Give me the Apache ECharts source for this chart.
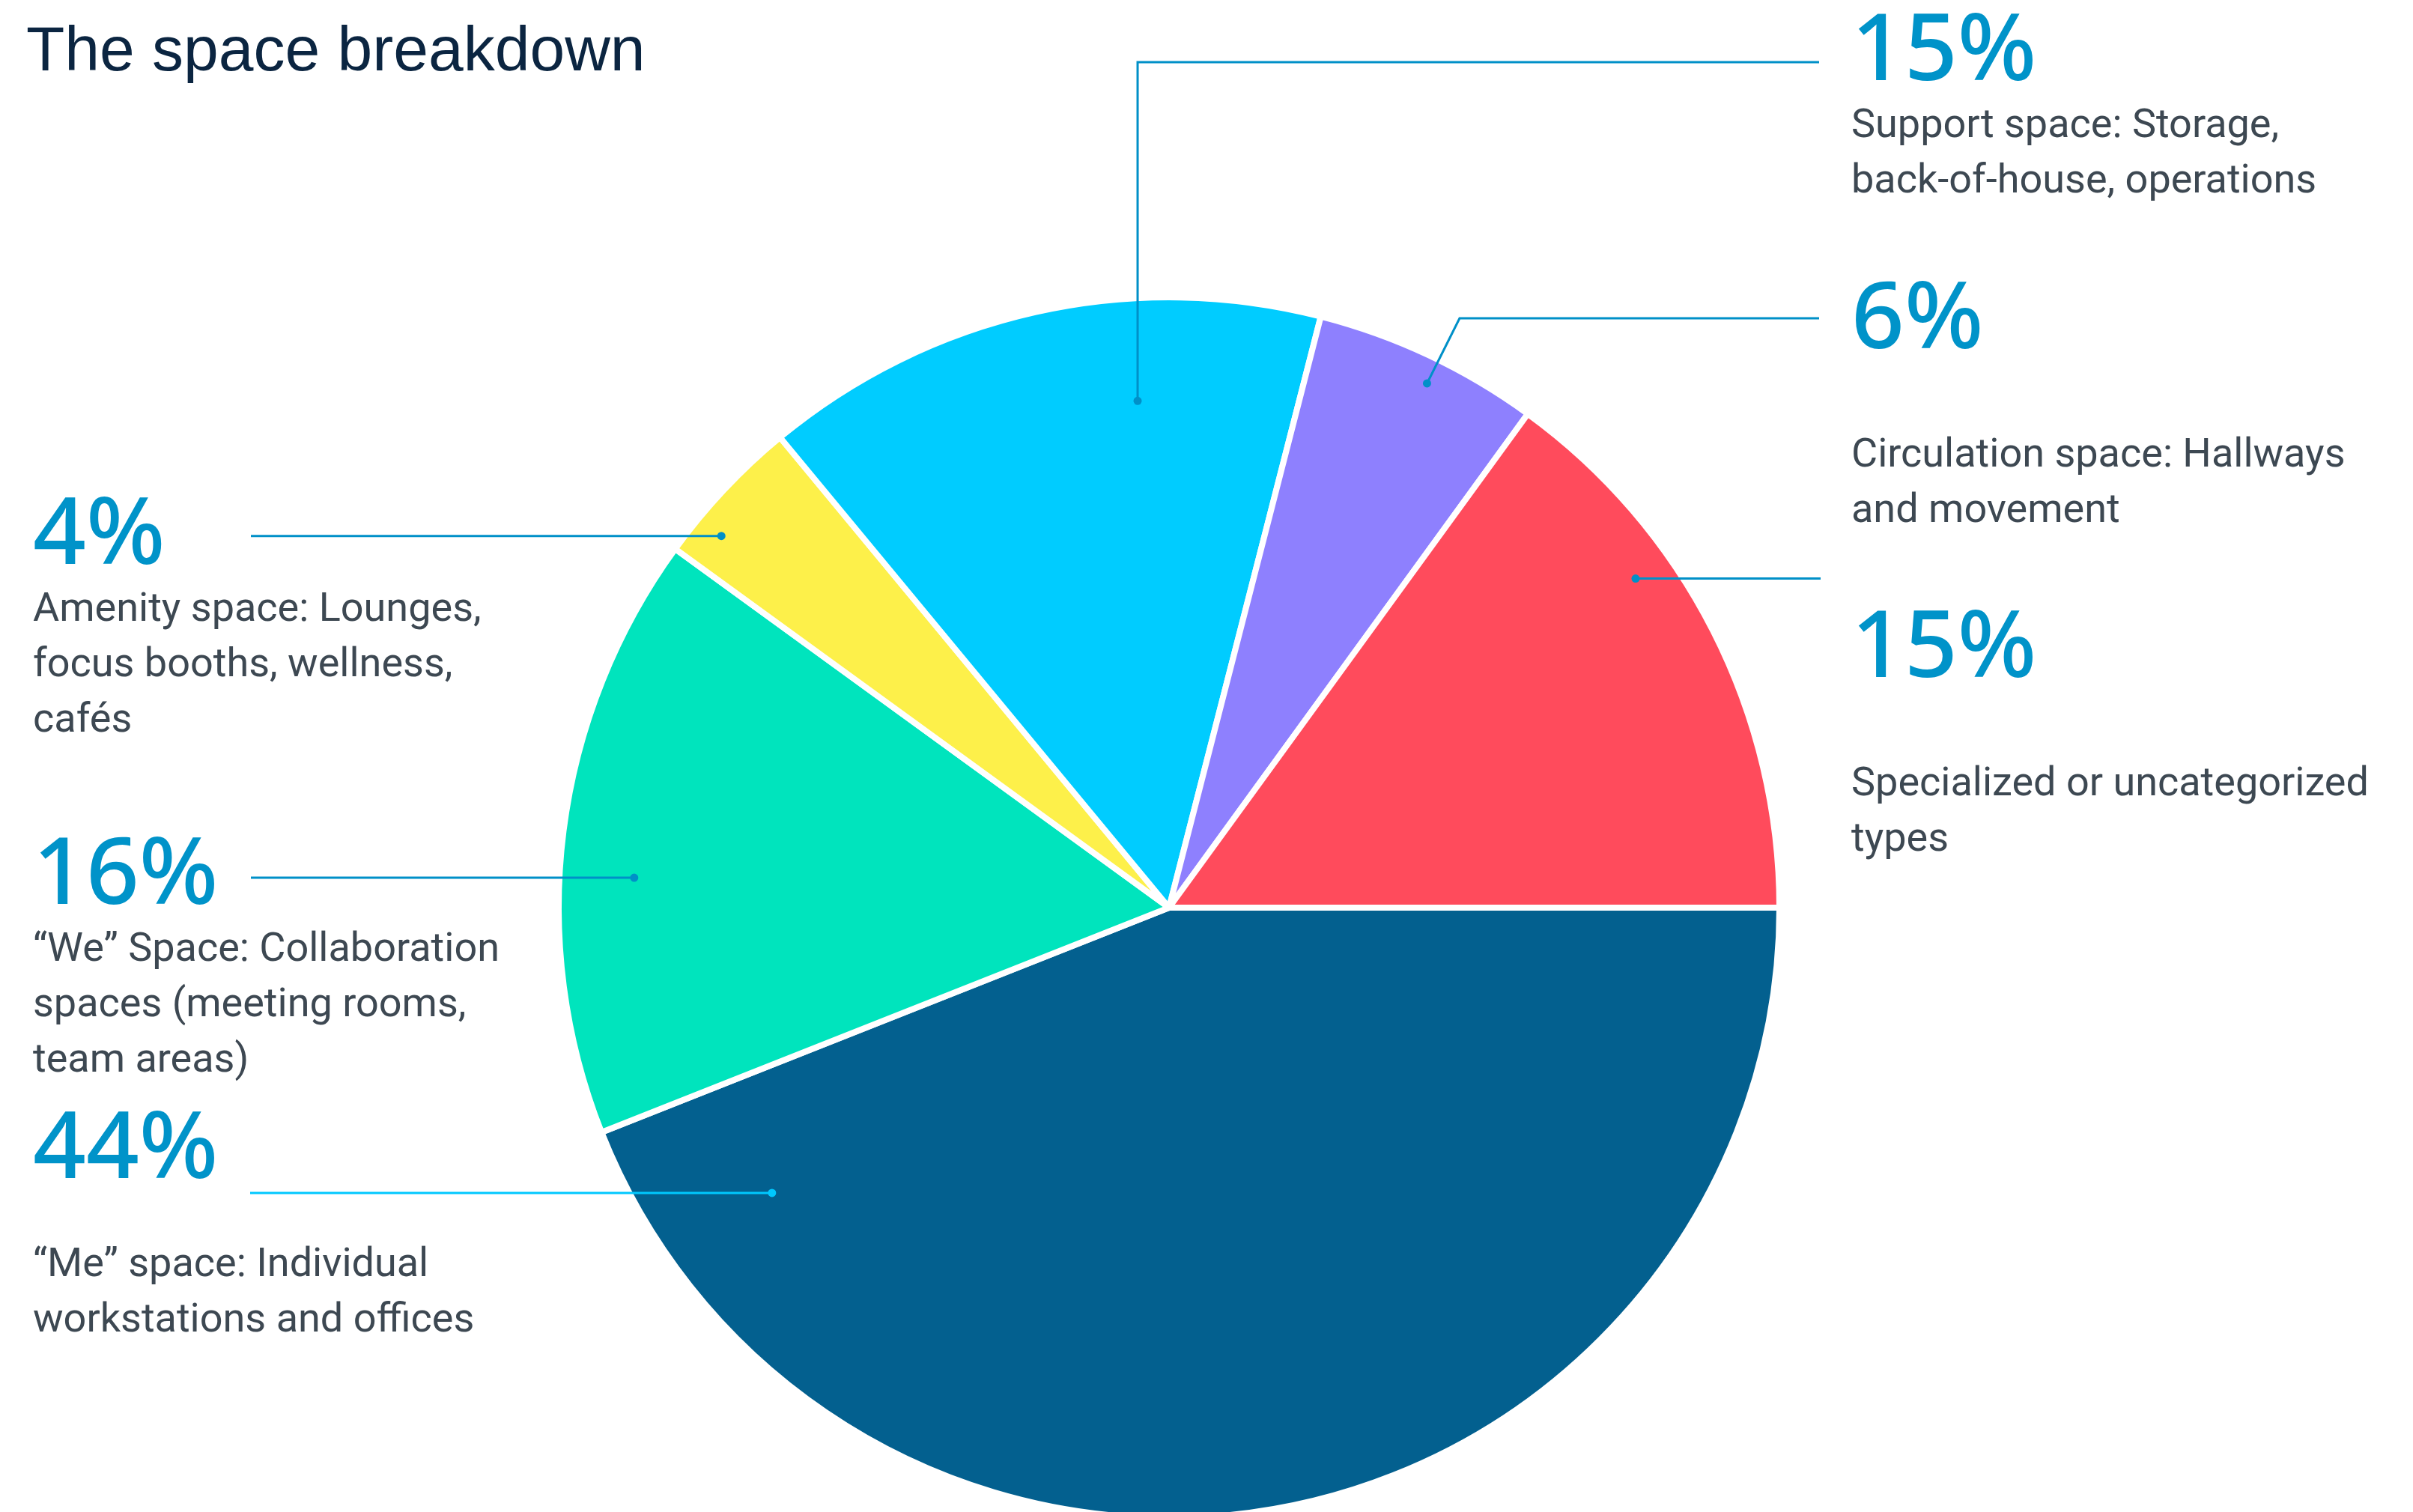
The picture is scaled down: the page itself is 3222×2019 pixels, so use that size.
<!DOCTYPE html>
<html>
<head>
<meta charset="utf-8">
<script src="https://cdn.jsdelivr.net/npm/echarts@6/dist/echarts.min.js"></script>
<style>
  html, body { margin: 0; padding: 0; background: #ffffff; }
  #chart { width: 3222px; height: 2019px; }
</style>
</head>
<body>
<div id="chart"></div>
<script>
// ---- data ----
const titleText = 'The space breakdown';
const categories = ['“Me” space', '“We” Space', 'Amenity space', 'Support space', 'Circulation space', 'Specialized or uncategorized'];
const values = [44, 16, 4, 15, 6, 15];
const descriptions = [
  ['“Me” space: Individual', 'workstations and offices'],
  ['“We” Space: Collaboration', 'spaces (meeting rooms,', 'team areas)'],
  ['Amenity space: Lounges,', 'focus booths, wellness,', 'cafés'],
  ['Support space: Storage,', 'back-of-house, operations'],
  ['Circulation space: Hallways', 'and movement'],
  ['Specialized or uncategorized', 'types']
];
const sliceColors = ['#03608F', '#00E4BD', '#FDF04A', '#00CCFF', '#8E80FE', '#FF4B5C'];

// ---- layout / style ----
const CENTER = [1561, 1212];
const VIS_R = 811;
const BORDER = 8;
// leader-line anchor dots: [angle deg clockwise from east, radius fraction]
const anchorPolar = [[144.3, 0.805], [183.2, 0.882], [219.7, 0.958], [266.45, 0.836], [296.2, 0.962], [324.8, 0.94]];
const labelBox = [
  { x: 44, top: 1477, endX: 334, elbowY: null, gap: 'gapB' },
  { x: 44, top: 1111, endX: 335, elbowY: null, gap: null },
  { x: 44, top: 657, endX: 335, elbowY: null, gap: null },
  { x: 2472, top: 11, endX: 2429, elbowY: 83, elbowVertical: true, gap: null },
  { x: 2472, top: 369, endX: 2429, elbowY: 425, gap: 'gapA' },
  { x: 2472, top: 808, endX: 2431, elbowY: null, gap: 'gapA' }
];
const lineColors = ['#00C8FF', '#0090C8', '#0090C8', '#0090C8', '#0090C8', '#0090C8'];

function anchorXY(i) {
  const a = anchorPolar[i][0] * Math.PI / 180;
  const r = anchorPolar[i][1] * VIS_R;
  return [CENTER[0] + r * Math.cos(a), CENTER[1] + r * Math.sin(a)];
}

function linePoints(i) {
  const p = anchorXY(i);
  const b = labelBox[i];
  if (b.elbowVertical) {
    return [p, [p[0], b.elbowY], [b.endX, b.elbowY]];
  }
  if (b.elbowY !== null) {
    const dy = b.elbowY - p[1];
    return [p, [p[0] + Math.abs(dy) * 0.5, b.elbowY], [b.endX, b.elbowY]];
  }
  return [p, [b.endX, p[1]]];
}

const seriesData = categories.map((name, i) => ({
  name: name,
  value: values[i],
  itemStyle: { color: sliceColors[i] }
}));

const chart = echarts.init(document.getElementById('chart'), null, { renderer: 'canvas' });

const leaders = [];
categories.forEach((_, i) => {
  const p = anchorXY(i);
  leaders.push({
    type: 'polyline',
    shape: { points: linePoints(i) },
    style: { stroke: lineColors[i], lineWidth: 3, fill: null },
    z: 100,
    silent: true
  });
  leaders.push({
    type: 'circle',
    shape: { cx: p[0], cy: p[1], r: 5.5 },
    style: { fill: lineColors[i] },
    z: 101,
    silent: true
  });
});

chart.setOption({
  animation: false,
  backgroundColor: '#ffffff',
  title: {
    text: titleText,
    left: 30,
    top: 24,
    textStyle: {
      fontFamily: 'Liberation Sans',
      fontWeight: 'normal',
      fontSize: 84,
      color: '#0B2541'
    }
  },
  graphic: leaders,
  series: [{
    type: 'pie',
    center: CENTER,
    radius: VIS_R + BORDER / 2,
    startAngle: 0,
    clockwise: true,
    avoidLabelOverlap: false,
    emphasis: { disabled: true },
    itemStyle: { borderColor: '#ffffff', borderWidth: BORDER },
    label: {
      show: true,
      position: 'outside',
      formatter: function (p) {
        const i = p.dataIndex;
        let s = '{pct|' + values[i] + '%}\n';
        if (labelBox[i].gap) s += '{' + labelBox[i].gap + '| }\n';
        s += descriptions[i].map(t => '{desc|' + t + '}').join('\n');
        return s;
      },
      rich: {
        pct: { fontFamily: 'Noto Sans', fontWeight: 500, fontSize: 124, lineHeight: 121, color: '#0093C9' },
        desc: { fontFamily: 'Roboto', fontSize: 54, lineHeight: 74, color: '#3D4852' },
        gapA: { fontSize: 1, lineHeight: 82 },
        gapB: { fontSize: 1, lineHeight: 55 }
      }
    },
    labelLine: { show: false },
    labelLayout: function (params) {
      const b = labelBox[params.dataIndex];
      return { x: b.x, y: b.top, align: 'left', verticalAlign: 'top' };
    },
    data: seriesData
  }]
});
</script>
</body>
</html>
